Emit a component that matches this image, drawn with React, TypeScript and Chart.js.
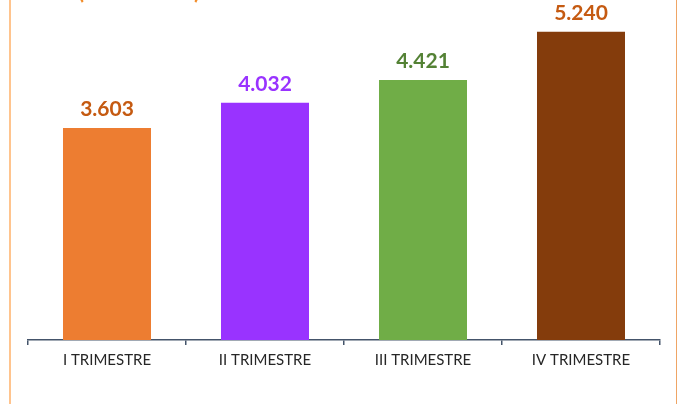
import React, { useEffect, useRef } from "react";
import { Chart, registerables } from "chart.js";

Chart.register(...registerables);

const categories = ["I TRIMESTRE", "II TRIMESTRE", "III TRIMESTRE", "IV TRIMESTRE"];
const values = [3603, 4032, 4421, 5240];
const barColors = ["#ED7D31", "#9933FF", "#70AD47", "#843C0C"];
const labelColors = ["#C55A11", "#9933FF", "#548235", "#C55A11"];
const titleText = "(en millones)";

function fmt(v: number): string {
  const s = String(Math.round(v));
  return s.replace(/\B(?=(\d{3})+(?!\d))/g, ".");
}

const decorPlugin = {
  id: "decor",
  beforeDraw(chart: any) {
    const ctx = chart.ctx;
    ctx.save();
    ctx.fillStyle = "#FFFFFF";
    ctx.fillRect(0, 0, chart.width, chart.height);
    ctx.fillStyle = "#FFC48E";
    ctx.fillRect(9, 0, 2, chart.height);
    ctx.fillStyle = "#EFA565";
    ctx.fillRect(676, 0, 1, chart.height);
    ctx.font = "bold 22px Lato";
    ctx.fillStyle = "#F28C28";
    ctx.textAlign = "center";
    ctx.textBaseline = "alphabetic";
    ctx.fillText(titleText, 139, -1);
    ctx.restore();
  },
  afterDatasetsDraw(chart: any) {
    const ctx = chart.ctx;
    const meta = chart.getDatasetMeta(0);
    ctx.save();
    ctx.font = "bold 21px Lato";
    ctx.textAlign = "center";
    ctx.textBaseline = "alphabetic";
    meta.data.forEach((bar: any, i: number) => {
      ctx.fillStyle = labelColors[i];
      ctx.fillText(fmt(values[i]), bar.x, bar.y - 12);
    });
    ctx.restore();
  },
};

export default function App() {
  const ref = useRef<HTMLCanvasElement | null>(null);
  useEffect(() => {
    if (!ref.current) return;
    const chart = new Chart(ref.current, {
      type: "bar",
      data: {
        labels: categories,
        datasets: [
          {
            data: values,
            backgroundColor: barColors,
            barPercentage: 0.557,
            categoryPercentage: 1,
          },
        ],
      },
      options: {
        animation: false,
        responsive: false,
        devicePixelRatio: 1,
        layout: { padding: { left: 28, right: 18, top: 0, bottom: 29 } },
        plugins: { legend: { display: false }, tooltip: { enabled: false } },
        scales: {
          x: {
            grid: {
              display: true,
              drawOnChartArea: false,
              drawTicks: true,
              tickLength: 5,
              color: "#44546A",
              lineWidth: 1.5,
              offset: true,
            },
            border: { display: true, color: "#44546A", width: 1.5 },
            ticks: { color: "#262626", font: { family: "Lato", size: 15 }, padding: 6 },
          },
          y: { display: false, min: 0, max: 5780 },
        },
      },
      plugins: [decorPlugin],
    });
    return () => chart.destroy();
  }, []);
  return (
    <div style={{ position: "fixed", left: 0, top: 0, width: 678, height: 404, background: "#fff" }}>
      <canvas ref={ref} width={678} height={404} style={{ width: 678, height: 404, display: "block" }} />
    </div>
  );
}
